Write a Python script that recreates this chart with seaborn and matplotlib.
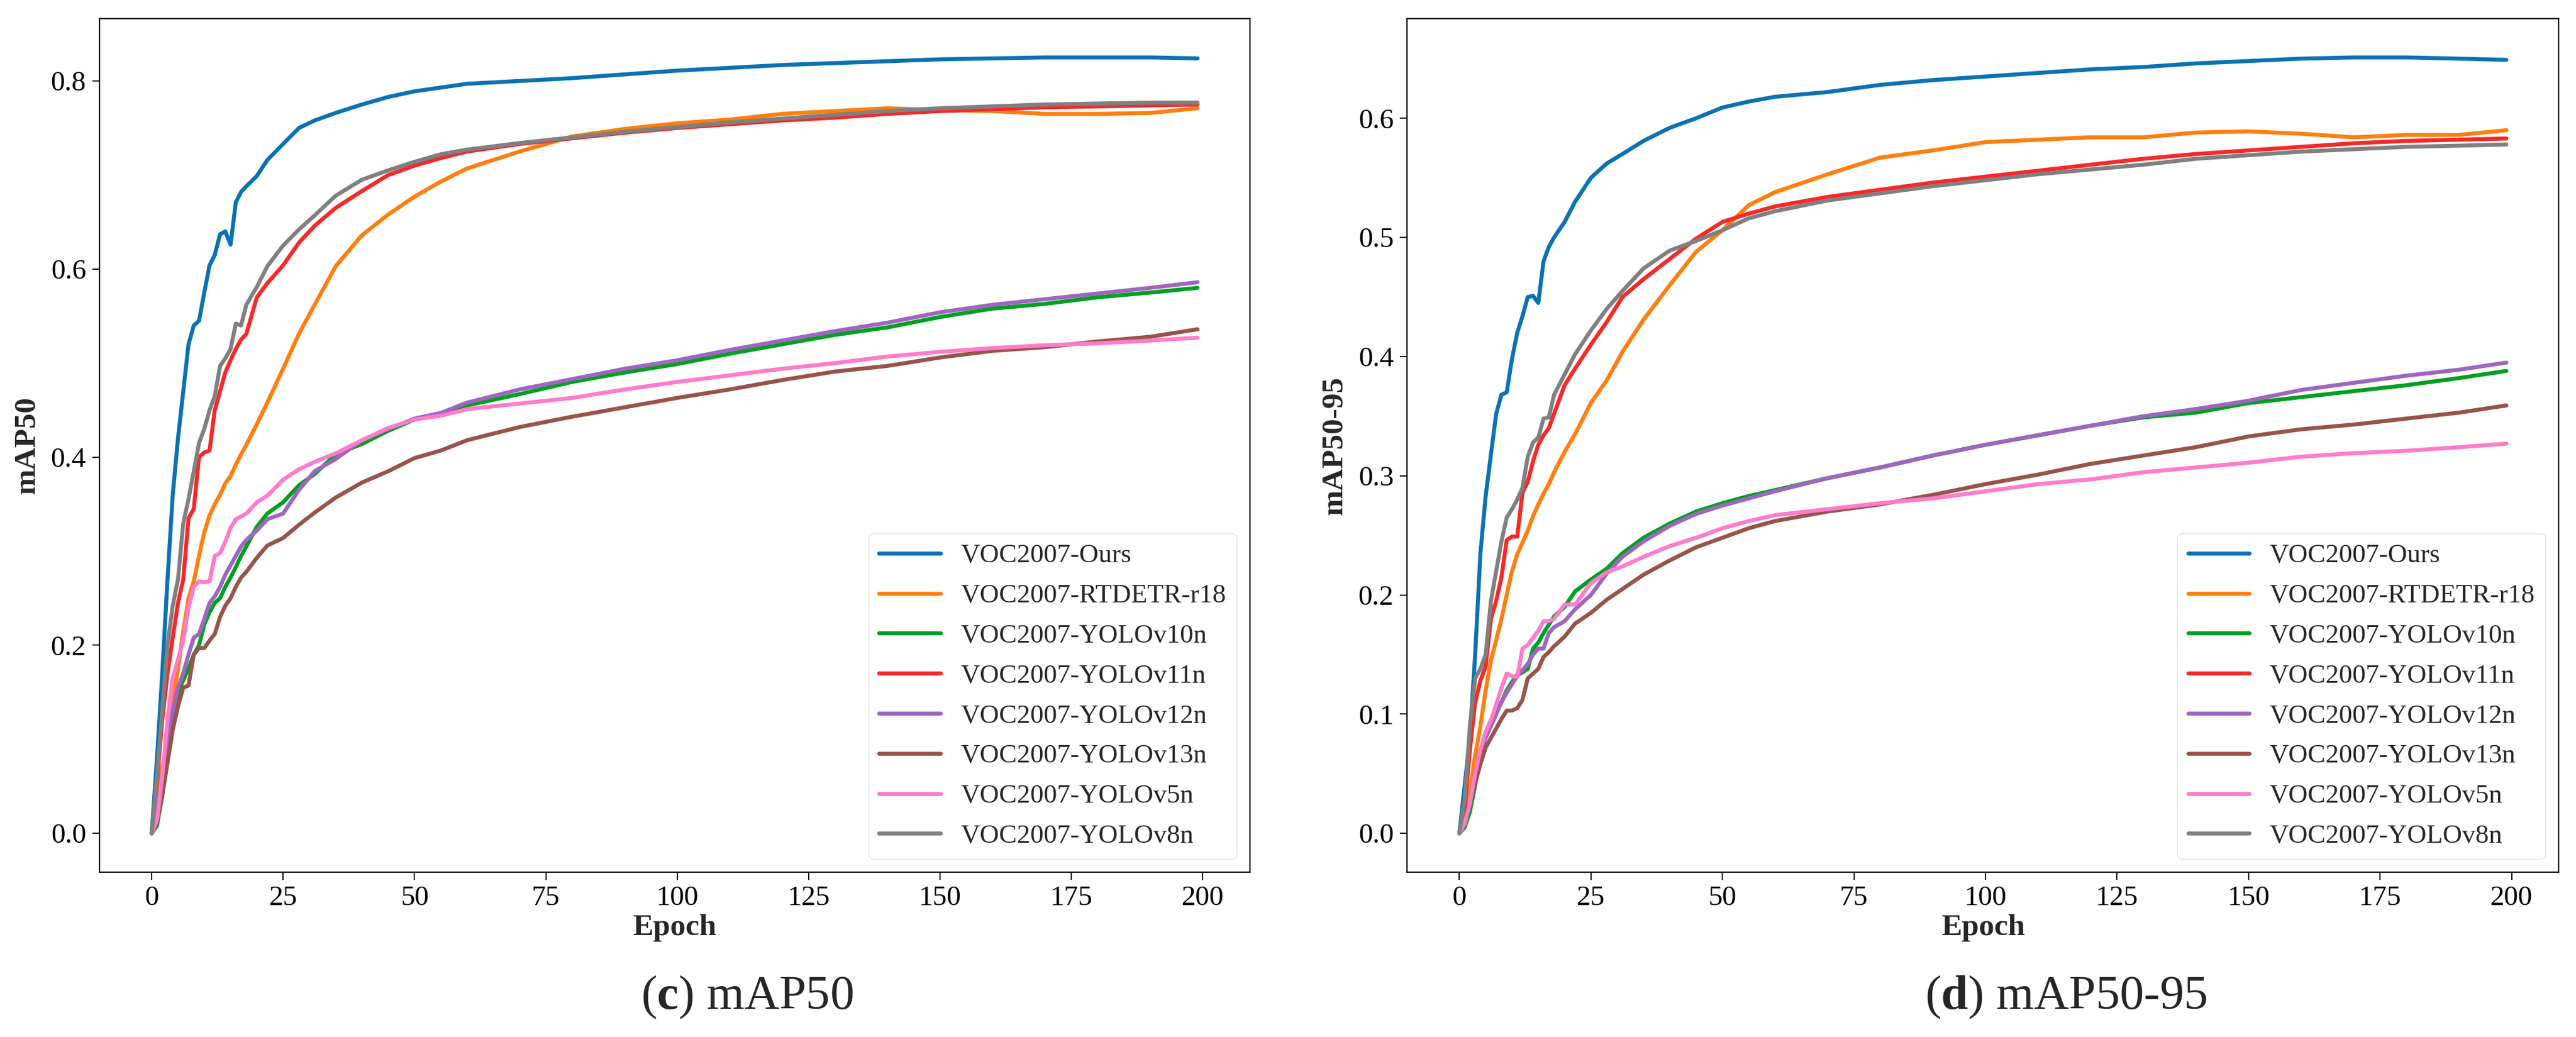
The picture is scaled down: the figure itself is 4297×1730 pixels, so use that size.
import numpy as np
import pandas as pd
import matplotlib
matplotlib.use('Agg')
import matplotlib.pyplot as plt
from matplotlib.ticker import FormatStrFormatter, MultipleLocator
import seaborn as sns

# style first, fonts after (set_theme resets font.family)
sns.set_theme(style="ticks")
plt.rcParams['font.family'] = ['Liberation Serif', 'DejaVu Serif']
plt.rcParams['mathtext.fontset'] = 'custom'
plt.rcParams['mathtext.rm'] = 'Liberation Serif'
plt.rcParams['mathtext.bf'] = 'Liberation Serif:bold'
plt.rcParams['axes.edgecolor'] = 'black'
plt.rcParams['axes.linewidth'] = 1.6

OUT_PNG = 'out.png'

MODELS = ['VOC2007-Ours', 'VOC2007-RTDETR-r18', 'VOC2007-YOLOv10n', 'VOC2007-YOLOv11n',
          'VOC2007-YOLOv12n', 'VOC2007-YOLOv13n', 'VOC2007-YOLOv5n', 'VOC2007-YOLOv8n']
COLORS = ['#0a72b4', '#ff7f0e', '#00a020', '#f82828', '#9f66c0', '#985449', '#ff7ccb', '#808080']

# epochs (denser where the curves climb fast)
EPOCHS = [0, 1, 2, 3, 4, 5, 6, 7, 8, 9, 10, 11, 12, 13, 14, 15, 16, 17, 18,
          20, 22, 25, 28, 31, 35, 40, 45, 50, 55, 60,
          70, 80, 90, 100, 110, 120, 130, 140, 150, 160, 170, 180, 190, 199]

# (c) mAP50
MAP50_OURS = [0.0, 0.08, 0.17, 0.27, 0.36, 0.42, 0.47, 0.52, 0.54, 0.545, 0.575, 0.604, 0.615, 0.637, 0.640, 0.626, 0.671, 0.682, 0.688,
              0.699, 0.716, 0.733, 0.750, 0.758, 0.766, 0.775, 0.783, 0.789, 0.793, 0.797,
              0.800, 0.803, 0.807, 0.811, 0.814, 0.817, 0.819, 0.821, 0.823, 0.824, 0.825, 0.825, 0.825, 0.824]
MAP50_RTDETR = [0.0, 0.03, 0.07, 0.10, 0.14, 0.175, 0.215, 0.25, 0.268, 0.295, 0.32, 0.338, 0.35, 0.36, 0.372, 0.38, 0.392, 0.403, 0.413,
                0.435, 0.458, 0.494, 0.531, 0.562, 0.603, 0.636, 0.658, 0.677, 0.693, 0.707,
                0.725, 0.741, 0.749, 0.755, 0.759, 0.765, 0.768, 0.771, 0.769, 0.768, 0.765, 0.765, 0.766, 0.771]
MAP50_V10 = [0.0, 0.008, 0.04, 0.09, 0.12, 0.15, 0.163, 0.175, 0.19, 0.20, 0.222, 0.235, 0.245, 0.25, 0.262, 0.272, 0.283, 0.295, 0.305,
             0.326, 0.34, 0.352, 0.37, 0.382, 0.403, 0.414, 0.428, 0.44, 0.446, 0.455,
             0.467, 0.480, 0.490, 0.499, 0.510, 0.520, 0.530, 0.538, 0.549, 0.558, 0.563, 0.570, 0.575, 0.580]
MAP50_V11 = [0.0, 0.055, 0.12, 0.17, 0.208, 0.245, 0.27, 0.335, 0.345, 0.40, 0.405, 0.407, 0.45, 0.47, 0.49, 0.503, 0.515, 0.525, 0.531,
             0.57, 0.585, 0.604, 0.628, 0.646, 0.665, 0.683, 0.70, 0.710, 0.718, 0.725,
             0.733, 0.739, 0.745, 0.750, 0.754, 0.758, 0.761, 0.765, 0.768, 0.770, 0.772, 0.773, 0.774, 0.775]
MAP50_V12 = [0.0, 0.02, 0.06, 0.10, 0.13, 0.155, 0.17, 0.19, 0.208, 0.212, 0.228, 0.245, 0.252, 0.262, 0.275, 0.285, 0.295, 0.305, 0.312,
             0.322, 0.334, 0.34, 0.365, 0.385, 0.398, 0.418, 0.43, 0.441, 0.447, 0.458,
             0.472, 0.483, 0.494, 0.503, 0.514, 0.524, 0.534, 0.543, 0.554, 0.562, 0.568, 0.574, 0.580, 0.586]
MAP50_V13 = [0.0, 0.011, 0.04, 0.075, 0.11, 0.135, 0.155, 0.157, 0.19, 0.197, 0.197, 0.205, 0.212, 0.23, 0.242, 0.25, 0.262, 0.272, 0.278,
             0.293, 0.306, 0.314, 0.328, 0.341, 0.357, 0.373, 0.385, 0.399, 0.407, 0.418,
             0.432, 0.443, 0.453, 0.463, 0.472, 0.482, 0.491, 0.497, 0.506, 0.513, 0.517, 0.523, 0.528, 0.536]
MAP50_V5 = [0.0, 0.014, 0.06, 0.12, 0.165, 0.185, 0.205, 0.24, 0.262, 0.268, 0.267, 0.268, 0.295, 0.298, 0.31, 0.325, 0.334, 0.337, 0.34,
            0.352, 0.359, 0.376, 0.387, 0.395, 0.404, 0.418, 0.431, 0.44, 0.444, 0.451,
            0.457, 0.463, 0.472, 0.480, 0.487, 0.494, 0.500, 0.507, 0.512, 0.516, 0.519, 0.521, 0.524, 0.527]
MAP50_V8 = [0.0, 0.06, 0.13, 0.20, 0.242, 0.27, 0.33, 0.355, 0.385, 0.415, 0.43, 0.45, 0.465, 0.497, 0.505, 0.515, 0.542, 0.54, 0.562,
            0.581, 0.603, 0.625, 0.642, 0.657, 0.678, 0.695, 0.705, 0.714, 0.722, 0.727,
            0.734, 0.740, 0.746, 0.751, 0.756, 0.760, 0.764, 0.768, 0.771, 0.773, 0.775, 0.776, 0.777, 0.777]

# (d) mAP50-95
MAP5095_OURS = [0.0, 0.04, 0.08, 0.15, 0.235, 0.283, 0.318, 0.352, 0.368, 0.37, 0.398, 0.42, 0.434, 0.45, 0.451, 0.445, 0.48, 0.492, 0.50,
                0.513, 0.53, 0.55, 0.562, 0.57, 0.581, 0.592, 0.600, 0.609, 0.614, 0.618,
                0.622, 0.628, 0.632, 0.635, 0.638, 0.641, 0.643, 0.646, 0.648, 0.650, 0.651, 0.651, 0.650, 0.649]
MAP5095_RTDETR = [0.0, 0.01, 0.035, 0.065, 0.09, 0.12, 0.145, 0.162, 0.18, 0.2, 0.22, 0.234, 0.244, 0.254, 0.266, 0.276, 0.285, 0.293, 0.303,
                  0.32, 0.335, 0.361, 0.38, 0.404, 0.431, 0.46, 0.488, 0.506, 0.527, 0.538,
                  0.553, 0.567, 0.573, 0.58, 0.582, 0.584, 0.584, 0.588, 0.589, 0.587, 0.584, 0.586, 0.586, 0.590]
MAP5095_V10 = [0.0, 0.005, 0.018, 0.04, 0.068, 0.085, 0.095, 0.103, 0.11, 0.12, 0.127, 0.133, 0.135, 0.138, 0.155, 0.16, 0.168, 0.175, 0.182,
               0.19, 0.203, 0.213, 0.222, 0.235, 0.248, 0.26, 0.27, 0.277, 0.283, 0.288,
               0.298, 0.307, 0.317, 0.326, 0.334, 0.342, 0.349, 0.353, 0.361, 0.366, 0.371, 0.376, 0.382, 0.388]
MAP5095_V11 = [0.0, 0.02, 0.07, 0.11, 0.128, 0.14, 0.18, 0.195, 0.215, 0.246, 0.249, 0.249, 0.286, 0.295, 0.312, 0.326, 0.334, 0.34, 0.352,
               0.376, 0.39, 0.41, 0.429, 0.45, 0.465, 0.482, 0.499, 0.513, 0.52, 0.526,
               0.534, 0.54, 0.546, 0.551, 0.556, 0.561, 0.566, 0.57, 0.573, 0.576, 0.579, 0.581, 0.582, 0.583]
MAP5095_V12 = [0.0, 0.008, 0.025, 0.05, 0.068, 0.08, 0.09, 0.1, 0.11, 0.118, 0.125, 0.132, 0.137, 0.142, 0.15, 0.155, 0.155, 0.168, 0.173,
               0.178, 0.188, 0.2, 0.218, 0.232, 0.245, 0.258, 0.268, 0.275, 0.281, 0.287,
               0.298, 0.307, 0.317, 0.326, 0.334, 0.342, 0.35, 0.356, 0.363, 0.372, 0.378, 0.384, 0.389, 0.395]
MAP5095_V13 = [0.0, 0.008, 0.025, 0.042, 0.058, 0.072, 0.08, 0.088, 0.096, 0.103, 0.103, 0.105, 0.112, 0.13, 0.134, 0.138, 0.148, 0.152, 0.157,
               0.165, 0.176, 0.185, 0.196, 0.205, 0.217, 0.229, 0.24, 0.248, 0.256, 0.262,
               0.27, 0.276, 0.284, 0.293, 0.301, 0.31, 0.317, 0.324, 0.333, 0.339, 0.343, 0.348, 0.353, 0.359]
MAP5095_V5 = [0.0, 0.008, 0.025, 0.05, 0.07, 0.085, 0.095, 0.108, 0.122, 0.134, 0.132, 0.131, 0.155, 0.158, 0.164, 0.17, 0.178, 0.178, 0.18,
              0.192, 0.192, 0.21, 0.219, 0.224, 0.232, 0.241, 0.248, 0.256, 0.262, 0.267,
              0.272, 0.277, 0.281, 0.287, 0.293, 0.297, 0.303, 0.307, 0.311, 0.316, 0.319, 0.321, 0.324, 0.327]
MAP5095_V8 = [0.0, 0.028, 0.09, 0.13, 0.138, 0.15, 0.195, 0.22, 0.245, 0.265, 0.272, 0.28, 0.29, 0.316, 0.328, 0.332, 0.348, 0.349, 0.368,
              0.385, 0.402, 0.422, 0.44, 0.455, 0.474, 0.489, 0.497, 0.506, 0.516, 0.522,
              0.531, 0.537, 0.543, 0.548, 0.553, 0.557, 0.561, 0.566, 0.569, 0.572, 0.574, 0.576, 0.577, 0.578]


def build_frame(series):
    rows = []
    for name, vals in zip(MODELS, series):
        for e, v in zip(EPOCHS, vals):
            rows.append({'Epoch': e, 'value': v, 'model': name})
    return pd.DataFrame(rows)


def draw_panel(ax, df, ylabel, ystep):
    sns.lineplot(data=df, x='Epoch', y='value', hue='model', hue_order=MODELS,
                 palette=dict(zip(MODELS, COLORS)), linewidth=4.8, estimator=None, ax=ax)
    ax.xaxis.set_major_locator(MultipleLocator(25))
    ax.yaxis.set_major_locator(MultipleLocator(ystep))
    ax.yaxis.set_major_formatter(FormatStrFormatter('%.1f'))
    ax.tick_params(axis='both', direction='out', length=9, width=1.4, pad=7,
                   labelsize=34, colors='black')
    ax.set_xlabel('Epoch', fontsize=37, fontweight='bold', labelpad=4)
    ax.set_ylabel(ylabel, fontsize=37, fontweight='bold')
    ax.yaxis.set_label_coords(-0.051, 0.5)
    for sp in ax.spines.values():
        sp.set_visible(True)
        sp.set_color('black')
    sns.move_legend(ax, 'lower right', title=None, fontsize=32, frameon=True,
                    labelspacing=0.6, handlelength=2.3, handletextpad=0.75,
                    borderaxespad=0.5, framealpha=0.8, edgecolor='0.85', fancybox=True)
    for line in ax.get_legend().get_lines():
        line.set_linewidth(4.8)


fig = plt.figure(figsize=(42.97, 17.30), dpi=100)
ax_c = fig.add_axes([0.0386, 0.159, 0.4466, 0.823])
ax_d = fig.add_axes([0.5462, 0.159, 0.4471, 0.823])

draw_panel(ax_c, build_frame([MAP50_OURS, MAP50_RTDETR, MAP50_V10, MAP50_V11,
                              MAP50_V12, MAP50_V13, MAP50_V5, MAP50_V8]), 'mAP50', 0.2)
draw_panel(ax_d, build_frame([MAP5095_OURS, MAP5095_RTDETR, MAP5095_V10, MAP5095_V11,
                              MAP5095_V12, MAP5095_V13, MAP5095_V5, MAP5095_V8]), 'mAP50-95', 0.1)

fig.text(0.290, 0.027, r'($\mathbf{c}$) mAP50', fontsize=58, ha='center', va='baseline')
fig.text(0.802, 0.027, r'($\mathbf{d}$) mAP50-95', fontsize=58, ha='center', va='baseline')

fig.savefig(OUT_PNG, dpi=100, facecolor='white')
plt.close(fig)
